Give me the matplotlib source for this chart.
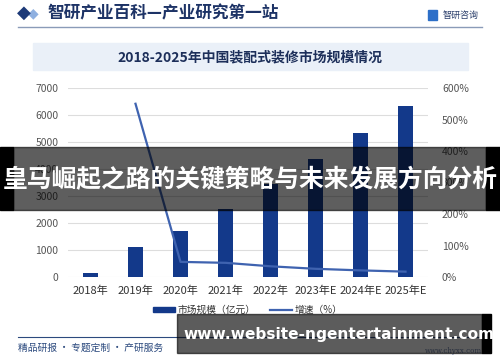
import numpy as np
import matplotlib
matplotlib.use("Agg")
import matplotlib.pyplot as plt
from matplotlib.patches import Rectangle
from matplotlib.lines import Line2D

plt.rcParams['font.family'] = ['Noto Sans CJK SC', 'DejaVu Sans']

# data
years = ['2018年', '2019年', '2020年', '2021年', '2022年', '2023年E', '2024年E', '2025年E']
market = [150, 1100, 1700, 2520, 3450, 4370, 5330, 6330]   # 亿元
growth = [np.nan, 550, 48, 45, 34, 26, 21, 17]             # %
left_ticks = [0, 1000, 2000, 3000, 4000, 5000, 6000, 7000]
right_ticks = [0, 100, 200, 300, 400, 500, 600]

W, H = 500, 362
navy = '#13398a'
line_c = '#3f63b0'
txt_c = '#555555'

fig = plt.figure(figsize=(W / 100, H / 100), dpi=100)
fig.patch.set_facecolor('white')


def px(x, y):
    # pixel coords (top-left origin) -> figure fraction
    return x / W, 1 - y / H


# header
x, y = px(24, 13)
fig.text(x, y, '◆', color='#1d3a78', fontsize=13, ha='center', va='center', family='DejaVu Sans')
x, y = px(33, 13)
fig.text(x, y, '◆', color='#8fb0e0', fontsize=10, ha='center', va='center', family='DejaVu Sans', zorder=0)
x, y = px(47, 13)
fig.text(x, y, '智研产业百科—产业研究第一站', color='#1d3366', fontsize=12,
         fontweight='bold', ha='left', va='center')
x, y = px(432, 15)
fig.patches.append(Rectangle((x - 0.008, y - 0.014), 0.018, 0.028, transform=fig.transFigure,
                             color='#2d6fc8'))
x, y = px(443, 15)
fig.text(x, y, '智研咨询', color='#2b3f6b', fontsize=6.5, ha='left', va='center')
x0, y0 = px(18, 27)
x1, _ = px(482, 27)
fig.add_artist(Line2D([x0, x1], [y0, y0], transform=fig.transFigure, color='#8a9bb8', lw=1))

# title box
bx0, by0 = px(33, 70)
bx1, by1 = px(468, 43)
fig.patches.append(Rectangle((bx0, by0), bx1 - bx0, by1 - by0, transform=fig.transFigure,
                             color='#eaf0f8', zorder=0))
x, y = px(250, 57)
fig.text(x, y, '2018-2025年中国装配式装修市场规模情况', color='#1d2f5a', fontsize=10,
         fontweight='bold', ha='center', va='center')

# main axes
ax = fig.add_axes([68 / W, 1 - 277 / H, 360 / W, 189 / H])
xpos = np.arange(len(years))
ax.bar(xpos, market, width=0.32, color=navy, zorder=3)
ax.set_ylim(0, 7000)
ax.set_xlim(-0.5, len(years) - 0.5)
ax.set_yticks(left_ticks)
ax.set_yticklabels([str(v) for v in left_ticks])
ax.set_xticks(xpos)
ax.set_xticklabels(years)
ax.tick_params(axis='y', length=0, labelsize=7.5, colors=txt_c, pad=7)
ax.tick_params(axis='x', length=0, labelsize=8, colors='#333333', pad=6)
ax.grid(axis='y', color='#dddddd', lw=0.8, zorder=0)
for s in ax.spines.values():
    s.set_visible(False)

ax2 = ax.twinx()
ax2.plot(xpos, growth, color=line_c, lw=1.6, zorder=4)
ax2.set_ylim(0, 600)
ax2.set_yticks(right_ticks)
ax2.set_yticklabels([f'{v}%' for v in right_ticks])
ax2.tick_params(axis='y', length=0, labelsize=7.5, colors=txt_c, pad=10)
for s in ax2.spines.values():
    s.set_visible(False)

handles = [Rectangle((0, 0), 1, 1, color=navy), Line2D([0], [0], color=line_c, lw=1.6)]
x, y = px(248, 310)
fig.legend(handles, ['市场规模（亿元）', '增速（%）'], loc='center', bbox_to_anchor=(x, y),
           ncol=2, frameon=False, fontsize=7, handlelength=2.2, handleheight=0.5,
           columnspacing=1.5, handletextpad=0.3, labelcolor='#333333')

# footer
x0, y0 = px(18, 337)
x1, _ = px(482, 337)
fig.add_artist(Line2D([x0, x1], [y0, y0], transform=fig.transFigure, color='#2c4a7e', lw=0.8))
x, y = px(18, 348)
fig.text(x, y, '精品研报 · 专题定制 · 产研服务', color='#2c4a7e', fontsize=7, ha='left', va='center')
x, y = px(482, 351)
fig.text(x, y, 'www.chyxx.com', color='#6b7fa8', fontsize=5, ha='right', va='center',
         family='DejaVu Serif')

# overlay band with headline
bx0, by0 = px(0, 210)
bx1, by1 = px(500, 147)
gx0, _ = px(13, 0)
gx1, _ = px(486, 0)
fig.patches.append(Rectangle((bx0, by0), gx0 - bx0, by1 - by0, transform=fig.transFigure,
                             color='black', zorder=10))
fig.patches.append(Rectangle((gx1, by0), bx1 - gx1, by1 - by0, transform=fig.transFigure,
                             color='black', zorder=10))
fig.patches.append(Rectangle((gx0, by0), gx1 - gx0, by1 - by0, transform=fig.transFigure,
                             color='black', alpha=0.63, zorder=12))
x, y = px(250, 180)
fig.text(x, y, '皇马崛起之路的关键策略与未来发展方向分析', color='white', fontsize=17.8,
         fontweight='bold', ha='center', va='center', zorder=13)

# bottom url band
bx0, by0 = px(177, 353)
bx1, by1 = px(491, 314)
gx1, _ = px(482, 0)
fig.patches.append(Rectangle((gx1, by0), bx1 - gx1, by1 - by0, transform=fig.transFigure,
                             color='black', zorder=10))
fig.patches.append(Rectangle((bx0, by0), gx1 - bx0, by1 - by0, transform=fig.transFigure,
                             color='black', alpha=0.64, zorder=11))
x, y = px(183, 334)
fig.text(x, y, 'www.website-ngentertainment.com', color='white', fontsize=11.1,
         fontweight='bold', ha='left', va='center', zorder=13, family='DejaVu Sans')

fig.savefig('out.png', dpi=100)
